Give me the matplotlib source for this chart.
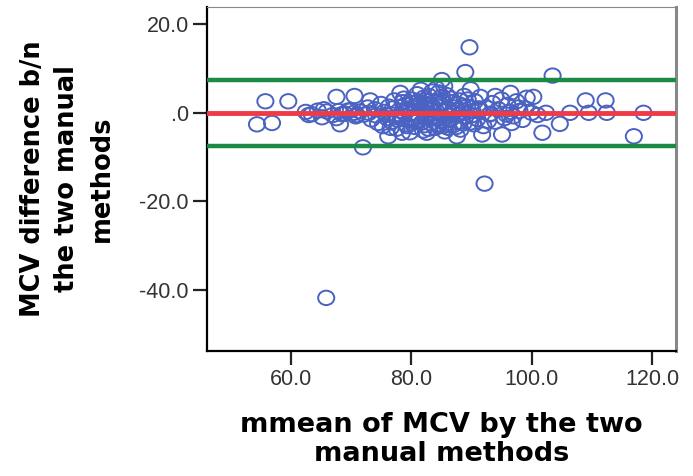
import matplotlib.pyplot as plt
from matplotlib.path import Path
from matplotlib.transforms import Affine2D

# mean of the two methods (x) and their difference (y)
mean_mcv = [
    54.4, 55.8, 56.9, 59.6, 62.5, 63.0, 63.5, 64.5, 65.2, 65.5, 65.9, 66.0,
    67.0, 67.6, 67.6, 68.0, 68.2, 68.5, 69.0, 69.5, 70.0, 70.5, 70.6, 70.8,
    71.0, 71.5, 72.0, 72.2, 72.8, 73.0, 73.2, 73.4, 74.0, 74.2, 74.5, 75.0,
    75.3, 75.5, 75.8, 76.0, 76.2, 76.3, 76.8, 77.0, 77.2, 77.6, 78.0, 78.2,
    78.2, 78.4, 78.5, 78.8, 79.2, 79.6, 79.8, 80.0, 80.3, 80.6, 80.8, 81.0,
    81.3, 81.6, 81.6, 81.8, 82.0, 82.3, 82.6, 82.6, 82.8, 83.0, 83.3, 83.5,
    83.6, 83.8, 84.0, 84.2, 84.3, 84.6, 84.8, 85.0, 85.1, 85.3, 85.5, 85.6,
    85.8, 86.0, 86.3, 86.6, 86.8, 87.0, 87.4, 87.6, 87.8, 88.2, 88.6, 89.0,
    89.0, 89.4, 89.7, 89.8, 89.9, 90.2, 90.6, 91.0, 91.5, 91.8, 92.0, 92.2,
    92.5, 93.0, 93.5, 94.0, 94.0, 94.5, 95.0, 95.1, 95.5, 96.0, 96.5, 96.5,
    96.7, 97.0, 97.5, 98.0, 98.5, 99.0, 99.2, 100.0, 100.3, 101.0, 101.8, 102.4,
    103.5, 104.7, 106.4, 109.0, 109.5, 112.3, 112.5, 117.0, 118.6,
    77.5, 79.0, 80.2, 81.2, 82.2, 83.2, 84.5, 85.2, 86.2, 87.2, 88.0, 88.8,
    79.4, 80.5, 82.5, 84.0, 86.5, 88.4, 90.0, 91.2, 93.2, 95.8, 97.8,
    76.6, 77.8, 78.6, 79.3, 80.1, 80.9, 81.4, 82.1, 82.9, 83.4, 83.9, 84.4,
    84.9, 85.4, 85.9, 86.4, 86.9, 87.5, 88.1, 88.7, 89.3, 90.4, 91.4, 92.8,
    79.9, 81.1, 82.4, 83.7, 85.7, 87.9,
]
diff_mcv = [
    -2.6, 2.6, -2.3, 2.6, 0.2, -0.5, -0.3, 0.5, -1.0, 0.8, -41.8, 0.3,
    -0.5, 3.6, -1.2, 0.4, -2.6, -0.3, -0.2, 0.5, 0.6, 0.0, 3.8, -0.8,
    -0.5, 0.3, -7.8, -0.4, 1.2, 0.0, 2.8, -1.5, 0.8, -0.6, -2.3, 2.0,
    -3.0, 0.2, -0.5, -1.2, -5.3, 1.4, -2.0, 1.0, 2.8, -3.6, 0.5, 4.5,
    -0.4, -1.2, -4.5, 3.2, -2.6, 1.0, -4.4, -0.3, 2.2, -3.2, 1.6, 4.2,
    -1.6, 0.8, 5.2, -2.2, -4.0, 2.8, -0.8, -4.5, 0.0, 3.8, -2.4, 4.8,
    1.4, -1.2, -3.4, 5.5, 0.2, 4.6, 2.0, -1.8, 7.4, 2.4, 6.0, -4.2,
    -2.6, 1.0, -0.6, 3.2, 0.0, -2.8, 0.6, -5.3, 2.0, -3.8, 1.6, -1.0,
    9.2, 3.0, 14.8, -2.2, 5.3, 0.4, 2.6, -1.4, 3.6, -4.9, -3.0, -16.0,
    1.2, -0.4, 2.2, -2.0, 3.8, 0.8, 3.0, -4.9, -1.2, 1.8, 0.2, 4.5,
    -2.3, -0.8, 2.6, 0.4, -1.6, 1.0, 3.4, 0.0, 3.6, -0.5, -4.5, 0.0,
    8.4, -2.5, 0.0, 2.8, 0.0, 2.8, 0.0, -5.3, 0.0,
    -1.0, 1.8, -1.8, 2.6, -2.8, 1.8, -3.0, 3.6, -3.4, 1.2, -2.0, 3.8,
    0.6, -1.2, 1.0, -1.0, -1.6, 0.2, -0.6, 1.0, -0.2, -0.4, 1.2,
    -3.4, -1.6, 2.4, -3.0, 3.0, -2.0, 2.0, 3.4, -3.6, 0.6, 2.6, -2.6,
    3.4, -3.0, 4.0, -1.4, 2.4, -3.2, 2.8, -2.4, 1.4, -2.6, 0.8, -1.8,
    -1.4, -0.6, 1.8, -0.8, 0.4, -0.4,
]
yticks = [20, 0, -20, -40]
ytick_labels = ["20.0", ".0", "-20.0", "-40.0"]
xticks = [60, 80, 100, 120]
xtick_labels = ["60.0", "80.0", "100.0", "120.0"]
mean_diff = 0.0
upper_loa = 7.4
lower_loa = -7.5

# slightly wide open circle, like the SPSS export
oval = Path.unit_circle().transformed(Affine2D().scale(1.12, 1.0))

fig = plt.figure(figsize=(6.93, 4.76), dpi=100)
ax = fig.add_axes([0.2987, 0.2626, 0.6768, 0.7227])

ax.scatter(mean_mcv, diff_mcv, s=135, marker=oval, facecolors="none",
           edgecolors="#4a62c2", linewidths=1.4, zorder=2)
ax.axhline(mean_diff, color="#ef3b47", lw=3.5, zorder=3)
ax.axhline(upper_loa, color="#1b8a45", lw=3.2, zorder=3)
ax.axhline(lower_loa, color="#1b8a45", lw=3.2, zorder=3)

ax.set_xlim(46.1, 124.0)
ax.set_ylim(-53.8, 23.9)
ax.set_xticks(xticks)
ax.set_xticklabels(xtick_labels)
ax.set_yticks(yticks)
ax.set_yticklabels(ytick_labels)
ax.tick_params(length=10, width=1.6, pad=3, labelsize=15.5, labelcolor="#333333",
               colors="#222222")
for lab in ax.get_xticklabels() + ax.get_yticklabels():
    lab.set_family("Liberation Sans")

ax.spines["left"].set_linewidth(1.6)
ax.spines["bottom"].set_linewidth(1.6)
ax.spines["top"].set_color("#888888")
ax.spines["right"].set_color("#888888")
ax.spines["right"].set_linewidth(2.2)

ax.set_xlabel("mmean of MCV by the two\nmanual methods", fontsize=19.5,
              fontweight="bold", family="DejaVu Sans", labelpad=16, linespacing=1.15)
ax.set_ylabel("MCV difference b/n\nthe two manual\nmethods", fontsize=18.5,
              fontweight="bold", family="DejaVu Sans", labelpad=18, linespacing=1.4)

fig.savefig("out.png", dpi=100)
